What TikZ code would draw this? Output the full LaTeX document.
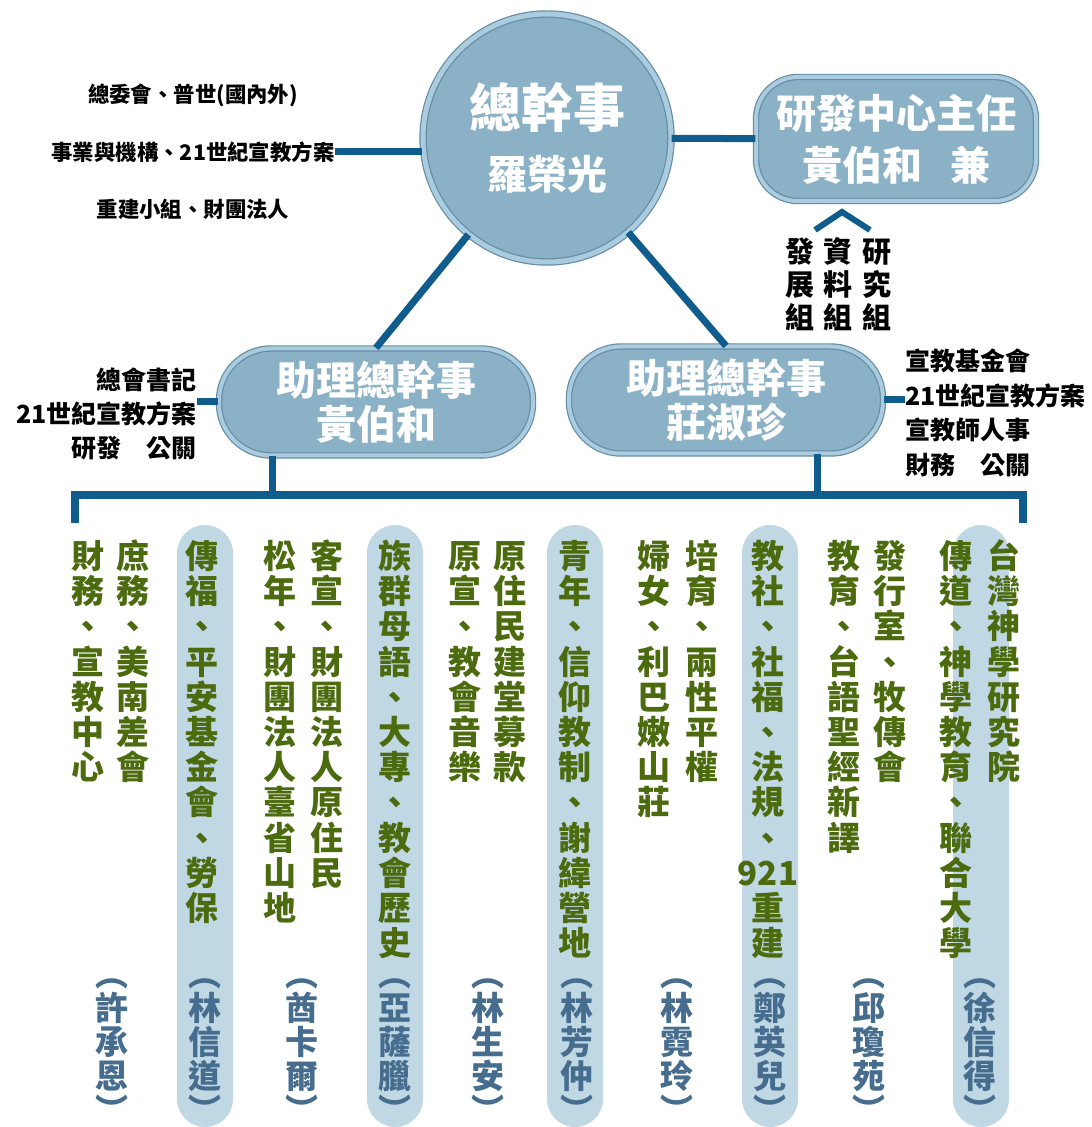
\documentclass[tikz,border=0pt]{standalone}
\usepackage{fontspec}
\setmainfont{Noto Sans CJK TC}
\usetikzlibrary{positioning}

\definecolor{linkblue}{RGB}{16,92,140}
\definecolor{boxfill}{RGB}{139,177,199}
\definecolor{boxrim}{RGB}{170,204,222}
\definecolor{boxedge}{RGB}{100,140,165}
\definecolor{pillblue}{RGB}{192,215,228}
\definecolor{unitgreen}{RGB}{76,106,14}
\definecolor{nameblue}{RGB}{70,108,142}

% one character per line, for the vertical columns
\let\vcolend\relax
\protected\def\ninetwoone{921}
\newcommand\vcol[2][17.6pt]{\edef\vcoltmp{#2}%
  \vbox{\baselineskip=#1\lineskiplimit=-100pt\expandafter\vcolloop\vcoltmp\vcolend}}
\newcommand\vcolloop[1]{\ifx\vcolend#1\else
  \hbox to 1em{\hss\vrule height .88em depth 0pt width 0pt#1\hss}%
  \expandafter\vcolloop\fi}

\begin{document}
\begin{tikzpicture}[x=0.5pt, y=-0.5pt,
    every node/.style={font=\bfseries},
    link/.style={draw=linkblue, line width=3.5pt},
    boss/.style={circle, fill=boxfill, draw=boxedge, double=boxrim, double distance=2.5pt,
      line width=.6pt, minimum size=124pt, inner sep=0pt, align=center, text=white,
      font=\bfseries\fontsize{20}{31}\selectfont},
    office/.style={rounded corners=21pt, fill=boxfill, draw=boxedge, double=boxrim,
      double distance=2pt, line width=.6pt, minimum width=140pt, minimum height=62pt,
      inner sep=0pt, align=center, text=white, font=\bfseries\fontsize{20}{26}\selectfont},
    deputy/.style={office, rounded corners=26pt, minimum width=157pt, minimum height=53.5pt,
      font=\bfseries\fontsize{20}{22}\selectfont},
    note/.style={inner sep=0pt, font=\bfseries\fontsize{12.5}{17.2}\selectfont},
    unit/.style={anchor=north, inner sep=0pt, text=unitgreen,
      font=\bfseries\fontsize{16.5}{17.6}\selectfont},
    head/.style={unit, text=nameblue},
    pill/.style={fill=pillblue, rounded corners=14pt},
  ]
  \useasboundingbox (0,0) rectangle (1091,1127);

  \node[boss] (gs) at (547,138) {{\fontsize{26}{31}\selectfont 總幹事}\\羅榮光};
  \node[office] (rd) at (896,139) {研發中心主任\\黃伯和\hspace{.7em}兼};
  \node[deputy] (la) at (376,402) {助理總幹事\\黃伯和};
  \node[deputy] (ra) at (726,400) {助理總幹事\\莊淑珍};

  \node[note, font=\bfseries\fontsize{10.7}{28.7}\selectfont, align=center] (gsnote) at (193,152)
    {總委會、普世(國內外)\\事業與機構、21世紀宣教方案\\重建小組、財團法人};
  \node[note, align=right, anchor=east] (lanote) at (197,414) {總會書記\\21世紀宣教方案\\研發　公關};
  \node[note, align=left, anchor=west] (ranote) at (905,413)
    {宣教基金會\\21世紀宣教方案\\宣教師人事\\財務　公關};

  \foreach \x/\grp [count=\i] in {800/發展組, 838/資料組, 877/研究組}
    \node[unit, text=black, font=\bfseries\fontsize{14.5}{16.5}\selectfont] (rdg\i) at (\x,237)
      {\vcol[16.5pt]{\grp}};
  \coordinate (rdtip) at (842,212);
  \draw[link, line width=3pt] ([shift={(-27,18)}]rdtip) -- (rdtip) -- ([shift={(28,18)}]rdtip);

  \foreach \x in {205, 395, 575, 770, 981}
    \fill[pill] (\x-28,525) rectangle (\x+28,1127);

  \foreach \x/\txt [count=\i] in {88/財務、宣教中心, 133/庶務、美南差會, 202/傳福、平安基金會、勞保,
      280/松年、財團法人臺省山地, 327/客宣、財團法人原住民, 395/族群母語、大專、教會歷史,
      465/原宣、教會音樂, 510/原住民建堂募款, 575/青年、信仰教制、謝緯營地,
      654/婦女、利巴嫩山莊, 702/培育、兩性平權, 768/教社、社福、法規、\ninetwoone 重建,
      844/教育、台語聖經新譯, 890/發行室、牧傳會, 956/傳道、神學教育、聯合大學, 1004/台灣神學研究院}
    \node[unit] (u\i) at (\x,539) {\vcol{\txt}};

  \foreach \x/\who [count=\i] in {112/許承恩, 205/林信道, 302/酋卡爾, 395/亞薩臘, 488/林生安,
      577/林芳仲, 677/林霓玲, 770/鄭英兒, 869/邱瓊苑, 980/徐信得}
    \node[head] (n\i) at (\x,957) {\vcol[17pt]{︵\who︶}};

  \draw[link] (gs) -- (rd);
  \draw[link] (gs) -- (la.north);
  \draw[link] (gs) -- (ra.north);
  \draw[link] (gsnote.east) -- (gsnote.east -| gs.west);
  \draw[link] (la.west) -- (la.west -| lanote.east);
  \draw[link] (ra.east) -- (ra.east -| ranote.west);
  \coordinate (barL) at (75,495);
  \coordinate (barR) at (1023,495);
  \draw[link, line width=4pt] ([yshift=-14pt]barL) -- (barL) -- (barR) -- ([yshift=-14pt]barR);
  \draw[link] ([xshift=-52pt]la.south) -- ([xshift=-52pt]la.south |- barL);
  \draw[link] ([xshift=45.5pt]ra.south) -- ([xshift=45.5pt]ra.south |- barR);
\end{tikzpicture}
\end{document}
